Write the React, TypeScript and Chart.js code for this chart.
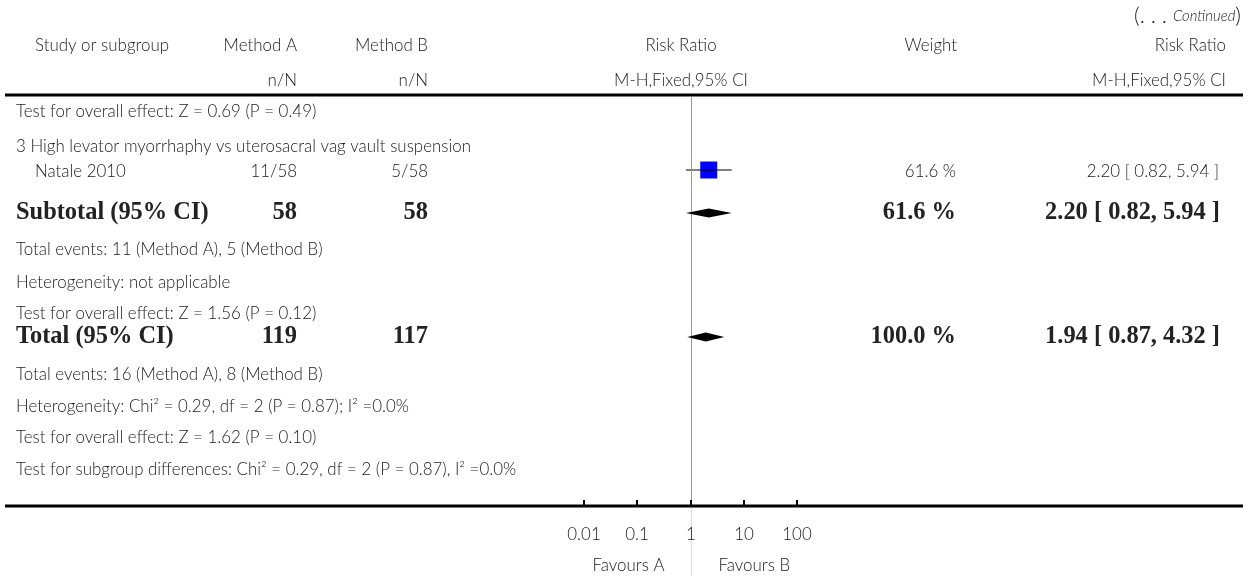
import React, { useEffect, useRef } from "react";
import { Chart, registerables } from "chart.js";

Chart.register(...registerables);

// ---------- DATA ----------
const studyNames = ["Natale 2010"];
const studyEventsA = [11];
const studyTotalA = [58];
const studyEventsB = [5];
const studyTotalB = [58];
const studyRR = [2.2];
const studyLo = [0.82];
const studyHi = [5.94];
const studyWeight = [61.6];

const summaryLabels = ["Subtotal (95% CI)", "Total (95% CI)"];
const summaryNA = [58, 119];
const summaryNB = [58, 117];
const summaryRR = [2.2, 1.94];
const summaryLo = [0.82, 0.87];
const summaryHi = [5.94, 4.32];
const summaryWeight = [61.6, 100.0];

const axisTicks = [0.01, 0.1, 1, 10, 100];
const axisTickLabels = ["0.01", "0.1", "1", "10", "100"];

const groupTitle = "3 High levator myorrhaphy vs uterosacral vag vault suspension";
const prevTestLine = "Test for overall effect: Z = 0.69 (P = 0.49)";
const subtotalNotes = [
  "Total events: 11 (Method A), 5 (Method B)",
  "Heterogeneity: not applicable",
  "Test for overall effect: Z = 1.56 (P = 0.12)",
];
const totalNotes = [
  "Total events: 16 (Method A), 8 (Method B)",
  "Heterogeneity: Chi\u00B2 = 0.29, df = 2 (P = 0.87); I\u00B2 =0.0%",
  "Test for overall effect: Z = 1.62 (P = 0.10)",
  "Test for subgroup differences: Chi\u00B2 = 0.29, df = 2 (P = 0.87), I\u00B2 =0.0%",
];

// ---------- LAYOUT (pixel rows / columns) ----------
const W = 1248;
const H = 576;
const PLOT_LEFT = 584;
const PLOT_RIGHT = 797;
const ROW = {
  cont: 14,
  head1: 44,
  head2: 79,
  rule: 95,
  prevTest: 110,
  group: 145,
  study: [170],
  summary: [213, 337],
  subNotes: [248, 281, 312],
  totNotes: [373, 405, 436, 468],
  axis: 506,
  tickLab: 533,
  favours: 564,
};
const COL = {
  left: 16,
  studyIndent: 35,
  nA: 297,
  nB: 428,
  rrCenter: 681,
  weight: 957,
  ci: 1219,
  head: 1226,
};

const SANS = 'Lato, "Open Sans", "DejaVu Sans", sans-serif';
const SERIF = '"Liberation Serif", "DejaVu Serif", serif';
const TXT = "#222";
const SANS_DY = 1.5;

const fmt2 = (v: number) => v.toFixed(2);
const ciText = (r: number, l: number, h: number) => `${fmt2(r)} [ ${fmt2(l)}, ${fmt2(h)} ]`;

const tablePlugin = {
  id: "forestTable",
  afterDraw(chart: any) {
    const ctx: CanvasRenderingContext2D = chart.ctx;
    const xs = chart.scales.x;
    const py = (v: number) => chart.scales.y.getPixelForValue(v);
    const px = (v: number) => xs.getPixelForValue(v);

    // fit font sizes
    ctx.font = `300 13px ${SANS}`;
    const sSize = (13 * 455) / ctx.measureText(groupTitle).width;
    ctx.font = `bold 19px ${SERIF}`;
    const bSize = (19 * 175) / ctx.measureText("2.20 [ 0.82, 5.94 ]").width;
    const sans = `300 ${sSize.toFixed(2)}px ${SANS}`;
    const bold = `bold ${bSize.toFixed(2)}px ${SERIF}`;

    const text = (s: string, x: number, y: number, align: CanvasTextAlign, font: string) => {
      ctx.font = font;
      ctx.textAlign = align;
      ctx.textBaseline = "middle";
      ctx.fillStyle = TXT;
      ctx.fillText(s, x, font === bold ? y : y + SANS_DY);
    };

    ctx.save();

    // vertical line of no effect
    const x1 = Math.round(px(1)) + 0.5;
    ctx.strokeStyle = "#9a9a9a";
    ctx.lineWidth = 1;
    ctx.beginPath();
    ctx.moveTo(x1, ROW.rule + 2);
    ctx.lineTo(x1, ROW.axis - 2);
    ctx.stroke();
    ctx.strokeStyle = "#dcdcdc";
    ctx.beginPath();
    ctx.moveTo(x1, ROW.axis + 2);
    ctx.lineTo(x1, H);
    ctx.stroke();

    // rules
    ctx.fillStyle = "#000";
    ctx.fillRect(5, ROW.rule - 1.5, W - 10, 3);
    ctx.fillRect(5, ROW.axis - 1.5, W - 10, 3);

    // axis ticks & labels
    axisTicks.forEach((t, i) => {
      const x = Math.round(px(t));
      ctx.fillStyle = "#000";
      ctx.fillRect(x - 1, ROW.axis - 6, 2, 6);
      text(axisTickLabels[i], x, ROW.tickLab, "center", sans);
    });
    text("Favours A", x1 - 27, ROW.favours, "right", sans);
    text("Favours B", x1 + 27, ROW.favours, "left", sans);

    // (... Continued)
    const itFont = `italic 300 ${(sSize * 0.88).toFixed(2)}px ${SANS}`;
    ctx.font = itFont;
    const wCont = ctx.measureText("Continued").width;
    const bigFont = `300 ${(sSize * 1.3).toFixed(2)}px ${SANS}`;
    ctx.font = bigFont;
    const wClose = ctx.measureText(")").width;
    const rightEdge = 1241;
    text(")", rightEdge, ROW.cont, "right", bigFont);
    text("Continued", rightEdge - wClose, ROW.cont + 1, "right", itFont);
    text("(. . . ", rightEdge - wClose - wCont, ROW.cont, "right", bigFont);

    // headers
    text("Study or subgroup", COL.studyIndent, ROW.head1, "left", sans);
    text("Method A", COL.nA, ROW.head1, "right", sans);
    text("Method B", COL.nB, ROW.head1, "right", sans);
    text("Risk Ratio", COL.rrCenter, ROW.head1, "center", sans);
    text("Weight", COL.weight, ROW.head1, "right", sans);
    text("Risk Ratio", COL.head, ROW.head1, "right", sans);
    text("n/N", COL.nA, ROW.head2, "right", sans);
    text("n/N", COL.nB, ROW.head2, "right", sans);
    text("M-H,Fixed,95% CI", COL.rrCenter, ROW.head2, "center", sans);
    text("M-H,Fixed,95% CI", COL.head, ROW.head2, "right", sans);

    text(prevTestLine, COL.left, ROW.prevTest, "left", sans);
    text(groupTitle, COL.left, ROW.group, "left", sans);

    // studies
    studyNames.forEach((n, i) => {
      const y = ROW.study[i];
      text(n, COL.studyIndent, y, "left", sans);
      text(`${studyEventsA[i]}/${studyTotalA[i]}`, COL.nA, y, "right", sans);
      text(`${studyEventsB[i]}/${studyTotalB[i]}`, COL.nB, y, "right", sans);
      text(`${studyWeight[i].toFixed(1)} %`, COL.weight - 1, y, "right", sans);
      text(ciText(studyRR[i], studyLo[i], studyHi[i]), COL.ci, y, "right", sans);
      // point-estimate tick inside box
      const xe = Math.round(px(studyRR[i]));
      const yp = py(y);
      ctx.fillStyle = "#000";
      ctx.fillRect(xe, yp - 3, 1, 6);
    });

    // summaries
    summaryLabels.forEach((lab, i) => {
      const y = ROW.summary[i];
      text(lab, COL.left, y, "left", bold);
      text(String(summaryNA[i]), COL.nA, y, "right", bold);
      text(String(summaryNB[i]), COL.nB, y, "right", bold);
      text(`${summaryWeight[i].toFixed(1)} %`, COL.weight - 1, y, "right", bold);
      text(ciText(summaryRR[i], summaryLo[i], summaryHi[i]), COL.ci + 1, y, "right", bold);
      const xl = px(summaryLo[i]);
      const xm = px(summaryRR[i]);
      const xh = px(summaryHi[i]);
      const yp = py(y);
      ctx.fillStyle = "#000";
      ctx.beginPath();
      ctx.moveTo(xl, yp);
      ctx.lineTo(xm, yp - 4.5);
      ctx.lineTo(xh, yp);
      ctx.lineTo(xm, yp + 4.5);
      ctx.closePath();
      ctx.fill();
    });

    subtotalNotes.forEach((s, i) => text(s, COL.left, ROW.subNotes[i], "left", sans));
    totalNotes.forEach((s, i) => text(s, COL.left, ROW.totNotes[i], "left", sans));

    ctx.restore();
  },
};

export default function App() {
  const ref = useRef<HTMLCanvasElement | null>(null);
  useEffect(() => {
    document.body.style.margin = "0";
    const canvas = ref.current;
    if (!canvas) return;
    const chart = new Chart(canvas, {
      type: "scatter",
      data: {
        datasets: [
          ...studyNames.map((_, i) => ({
            type: "line" as const,
            data: [
              { x: studyLo[i], y: ROW.study[i] },
              { x: studyHi[i], y: ROW.study[i] },
            ],
            borderColor: "#000",
            borderWidth: 1,
            pointRadius: 0,
            fill: false,
          })),
          {
            type: "scatter" as const,
            data: studyNames.map((_, i) => ({ x: studyRR[i], y: ROW.study[i] })),
            pointStyle: "rect",
            pointRadius: 12,
            backgroundColor: "#0000ff",
            borderWidth: 0,
          },
        ],
      },
      options: {
        animation: false,
        responsive: false,
        devicePixelRatio: 1,
        layout: { autoPadding: false, padding: { left: PLOT_LEFT, right: W - PLOT_RIGHT, top: 0, bottom: 0 } },
        plugins: { legend: { display: false }, tooltip: { enabled: false } },
        scales: {
          x: { type: "logarithmic", min: 0.01, max: 100, display: false },
          y: { type: "linear", min: 0, max: H, reverse: true, display: false },
        },
      },
      plugins: [tablePlugin],
    });
    return () => chart.destroy();
  }, []);
  return (
    <div style={{ width: W, height: H, background: "#fff" }}>
      <canvas ref={ref} width={W} height={H} />
    </div>
  );
}
